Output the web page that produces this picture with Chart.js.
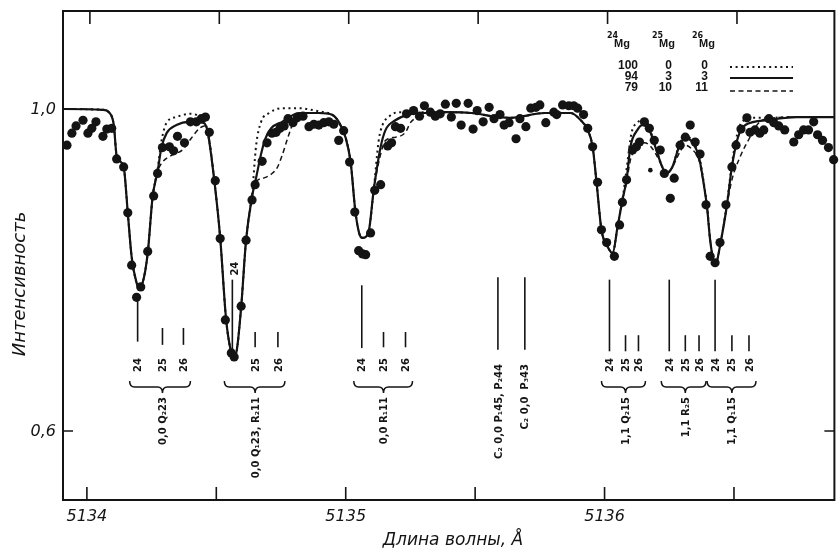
<!DOCTYPE html>
<html lang="ru">
<head>
<meta charset="utf-8">
<title>MgH — профиль линий</title>
<script src="https://cdn.jsdelivr.net/npm/chart.js@4.4.0/dist/chart.umd.min.js"></script>
<style>
  html, body { margin: 0; padding: 0; background: #fff; }
  #wrap { width: 839px; height: 553px; }
</style>
</head>
<body>
<div id="wrap"><canvas id="c" width="839" height="553"></canvas></div>
<script>
// ---- Axis ranges and ticks (wavelength in Å, relative intensity) ----
const xMin = 5133.9077, xMax = 5136.888;
const yMin = 0.5143, yMax = 1.1217;
const xMajorTicks = [5134, 5135, 5136];
const xMajorLabels = ['5134', '5135', '5136'];
const xMinorTicks = [5134.5, 5135.5, 5136.5];
const yTicks = [0.6, 1.0];
const yTickLabels = ['0,6', '1,0'];

// ---- Synthetic spectra: 24Mg:25Mg:26Mg = 100:0:0 (dotted) ----
const dottedWl = [5133.908,5134.062,5134.085,5134.104,5134.115,5134.142,5134.158,5134.173,5134.192,5134.200,5134.215,5134.235,5134.254,5134.273,5134.288,5134.308,5134.346,5134.396,5134.435,5134.465,5134.492,5134.515,5134.538,5134.558,5134.565,5134.577,5134.596,5134.615,5134.638,5134.654,5134.673,5134.704,5134.754,5134.819,5134.896,5134.946,5134.973,5135.000,5135.019,5135.038,5135.058,5135.065,5135.088,5135.108,5135.127,5135.142,5135.165,5135.204,5135.242,5135.308,5135.385,5135.485,5135.588,5135.638,5135.769,5135.869,5135.908,5135.935,5135.954,5135.969,5135.988,5136.012,5136.031,5136.050,5136.069,5136.085,5136.104,5136.127,5136.146,5136.165,5136.192,5136.223,5136.238,5136.262,5136.288,5136.312,5136.338,5136.365,5136.385,5136.396,5136.408,5136.427,5136.450,5136.473,5136.492,5136.512,5136.531,5136.577,5136.627,5136.742,5136.888];
const dottedI  = [1.000,0.999,0.996,0.980,0.942,0.928,0.871,0.816,0.784,0.779,0.784,0.821,0.891,0.925,0.960,0.983,0.990,0.994,0.990,0.974,0.912,0.840,0.738,0.697,0.692,0.697,0.754,0.837,0.893,0.955,0.984,0.995,1.001,1.001,0.997,0.993,0.984,0.964,0.934,0.871,0.841,0.840,0.847,0.899,0.960,0.980,0.990,0.996,0.996,0.996,0.996,0.995,0.990,0.989,0.995,0.995,0.986,0.974,0.953,0.909,0.850,0.829,0.821,0.853,0.887,0.925,0.970,0.983,0.986,0.983,0.958,0.928,0.920,0.928,0.955,0.966,0.961,0.942,0.905,0.880,0.837,0.806,0.837,0.883,0.932,0.968,0.984,0.989,0.989,0.990,0.990];

// ---- 94:3:3 (solid) ----
const solidWl = [5133.908,5134.062,5134.085,5134.104,5134.115,5134.142,5134.158,5134.173,5134.192,5134.200,5134.215,5134.235,5134.254,5134.273,5134.288,5134.308,5134.346,5134.396,5134.446,5134.465,5134.492,5134.515,5134.538,5134.558,5134.565,5134.577,5134.596,5134.615,5134.638,5134.654,5134.673,5134.688,5134.712,5134.754,5134.819,5134.896,5134.946,5134.973,5135.000,5135.019,5135.038,5135.058,5135.065,5135.088,5135.108,5135.135,5135.154,5135.192,5135.242,5135.308,5135.385,5135.485,5135.588,5135.638,5135.769,5135.869,5135.908,5135.935,5135.954,5135.969,5135.988,5136.012,5136.031,5136.050,5136.069,5136.085,5136.100,5136.127,5136.146,5136.173,5136.196,5136.223,5136.238,5136.262,5136.288,5136.312,5136.338,5136.365,5136.385,5136.396,5136.408,5136.427,5136.450,5136.473,5136.492,5136.512,5136.531,5136.577,5136.627,5136.742,5136.888];
const solidI  = [1.000,0.999,0.996,0.980,0.942,0.928,0.871,0.816,0.784,0.779,0.784,0.821,0.891,0.922,0.952,0.970,0.980,0.984,0.983,0.974,0.912,0.840,0.738,0.697,0.692,0.697,0.754,0.837,0.891,0.915,0.944,0.962,0.976,0.984,0.995,0.995,0.993,0.984,0.964,0.934,0.871,0.841,0.840,0.847,0.899,0.953,0.974,0.986,0.993,0.995,0.996,0.995,0.990,0.989,0.995,0.995,0.986,0.974,0.953,0.909,0.850,0.829,0.821,0.853,0.887,0.912,0.953,0.974,0.980,0.974,0.953,0.928,0.920,0.928,0.953,0.964,0.959,0.940,0.903,0.878,0.837,0.806,0.837,0.881,0.928,0.961,0.976,0.984,0.986,0.990,0.990];

// ---- 79:10:11 (dashed) ----
const dashedWl = [5133.908,5134.062,5134.085,5134.104,5134.115,5134.142,5134.158,5134.173,5134.192,5134.200,5134.215,5134.235,5134.254,5134.273,5134.292,5134.331,5134.369,5134.404,5134.435,5134.454,5134.470,5134.492,5134.515,5134.538,5134.558,5134.565,5134.577,5134.596,5134.615,5134.638,5134.650,5134.681,5134.712,5134.735,5134.754,5134.777,5134.800,5134.823,5134.896,5134.946,5134.973,5135.000,5135.019,5135.038,5135.058,5135.065,5135.088,5135.108,5135.125,5135.154,5135.192,5135.231,5135.250,5135.277,5135.308,5135.385,5135.485,5135.588,5135.638,5135.769,5135.869,5135.908,5135.935,5135.954,5135.969,5135.988,5136.012,5136.031,5136.050,5136.069,5136.085,5136.100,5136.127,5136.154,5136.177,5136.200,5136.223,5136.238,5136.262,5136.292,5136.312,5136.338,5136.365,5136.385,5136.396,5136.408,5136.427,5136.450,5136.473,5136.492,5136.523,5136.562,5136.596,5136.627,5136.742,5136.888];
const dashedI  = [1.000,0.999,0.996,0.980,0.942,0.928,0.871,0.816,0.784,0.779,0.784,0.821,0.891,0.922,0.934,0.943,0.949,0.964,0.976,0.979,0.968,0.912,0.840,0.738,0.697,0.692,0.697,0.754,0.837,0.891,0.908,0.914,0.919,0.927,0.942,0.965,0.985,0.993,0.995,0.993,0.984,0.964,0.934,0.871,0.841,0.840,0.847,0.899,0.930,0.961,0.965,0.971,0.983,0.990,0.995,0.996,0.995,0.990,0.989,0.995,0.995,0.986,0.974,0.953,0.909,0.850,0.829,0.821,0.853,0.887,0.909,0.937,0.952,0.958,0.954,0.943,0.928,0.920,0.928,0.947,0.955,0.950,0.936,0.903,0.878,0.837,0.806,0.837,0.881,0.912,0.940,0.965,0.983,0.988,0.990,0.990];

// ---- Observed profile ----
const obsWl = [5133.923,5133.942,5133.958,5133.985,5134.004,5134.019,5134.035,5134.062,5134.077,5134.096,5134.115,5134.142,5134.158,5134.173,5134.192,5134.208,5134.235,5134.258,5134.273,5134.292,5134.319,5134.335,5134.350,5134.377,5134.400,5134.423,5134.442,5134.458,5134.473,5134.496,5134.515,5134.535,5134.558,5134.569,5134.596,5134.615,5134.638,5134.650,5134.677,5134.696,5134.715,5134.731,5134.746,5134.762,5134.777,5134.796,5134.812,5134.835,5134.858,5134.877,5134.896,5134.915,5134.935,5134.954,5134.973,5134.992,5135.015,5135.035,5135.050,5135.065,5135.077,5135.096,5135.112,5135.135,5135.162,5135.177,5135.192,5135.212,5135.235,5135.262,5135.285,5135.304,5135.327,5135.346,5135.365,5135.385,5135.408,5135.427,5135.446,5135.473,5135.492,5135.508,5135.531,5135.554,5135.573,5135.596,5135.612,5135.631,5135.658,5135.673,5135.696,5135.715,5135.735,5135.750,5135.773,5135.804,5135.815,5135.838,5135.862,5135.881,5135.896,5135.919,5135.935,5135.954,5135.973,5135.988,5136.008,5136.038,5136.058,5136.069,5136.085,5136.108,5136.123,5136.135,5136.154,5136.173,5136.192,5136.215,5136.231,5136.254,5136.269,5136.292,5136.312,5136.331,5136.350,5136.369,5136.392,5136.408,5136.427,5136.446,5136.469,5136.492,5136.508,5136.527,5136.550,5136.562,5136.581,5136.600,5136.615,5136.635,5136.654,5136.673,5136.696,5136.731,5136.750,5136.769,5136.788,5136.808,5136.823,5136.842,5136.865,5136.885];
const obsI  = [0.955,0.970,0.979,0.986,0.970,0.976,0.984,0.966,0.975,0.976,0.938,0.928,0.871,0.806,0.766,0.779,0.823,0.892,0.920,0.952,0.953,0.948,0.966,0.958,0.984,0.984,0.988,0.990,0.971,0.911,0.839,0.738,0.697,0.692,0.755,0.837,0.887,0.906,0.935,0.958,0.970,0.971,0.976,0.979,0.988,0.983,0.989,0.991,0.978,0.981,0.980,0.983,0.984,0.981,0.961,0.973,0.934,0.872,0.824,0.820,0.819,0.846,0.899,0.906,0.954,0.958,0.978,0.976,0.994,0.998,0.991,1.004,0.996,0.991,0.994,1.006,0.990,1.007,0.980,1.007,0.975,0.998,0.984,1.002,0.988,0.993,0.980,0.983,0.963,0.988,0.978,1.001,1.002,1.005,0.983,0.996,0.993,1.005,1.004,1.004,1.001,0.993,0.976,0.953,0.909,0.850,0.834,0.817,0.856,0.884,0.912,0.949,0.953,0.959,0.984,0.976,0.961,0.949,0.920,0.889,0.914,0.955,0.965,0.980,0.959,0.944,0.881,0.817,0.809,0.834,0.881,0.928,0.955,0.975,0.989,0.971,0.974,0.970,0.974,0.988,0.983,0.979,0.974,0.959,0.968,0.974,0.974,0.984,0.968,0.961,0.952,0.937];
// a single weaker reading near the 1,1 R2 5 line
const obsFaintWl = [5136.177];
const obsFaintI  = [0.924];

// ---- Line positions of the isotopic components and C2 blends ----
const markerWl     = [5134.196,5134.292,5134.373, 5134.562,5134.650,5134.738, 5135.062,5135.146,5135.231, 5135.588,5135.692, 5136.019,5136.081,5136.131, 5136.250,5136.312,5136.365, 5136.427,5136.492,5136.558];
const markerTop    = [0.765,0.728,0.728, 0.788,0.723,0.723, 0.781,0.723,0.723, 0.791,0.791, 0.788,0.719,0.719, 0.788,0.719,0.719, 0.788,0.719,0.719];
const markerBottom = [0.711,0.707,0.707, 0.697,0.704,0.704, 0.703,0.704,0.704, 0.701,0.701, 0.699,0.699,0.699, 0.699,0.699,0.699, 0.699,0.699,0.699];
const markerIso    = ['24','25','26', '24','25','26', '24','25','26', '','', '24','25','26', '24','25','26', '24','25','26'];

// ---- Transitions (braced triplets) and blends ----
const groupNames = ['0,0 Q\u208223', '0,0 Q\u208123, R\u208211', '0,0 R\u208111', '1,1 Q\u208215', '1,1 R\u20825', '1,1 Q\u208115'];
const groupFirst = [0, 3, 6, 11, 14, 17];
const groupLast  = [2, 5, 8, 13, 16, 19];
const blendNames   = ['C\u2082 0,0 P\u208145, P\u208244', 'C\u2082 0,0  P\u208343'];
const blendMarkers = [9, 10];

// ---- Isotope mixtures table ----
const isoHeads = ['24', '25', '26'];
const mixRows = [['100', '0', '0'], ['94', '3', '3'], ['79', '10', '11']];

const toPts = (xs, ys) => xs.map((x, i) => ({ x: x, y: ys[i] }));
const INK = '#141414';

// Frame, ticks, labels, component markers and the mixture table
const annotations = {
  id: 'annotations',
  afterDatasetsDraw(chart) {
    const ctx = chart.ctx;
    const xs = chart.scales.x, ys = chart.scales.y;
    const a = chart.chartArea;
    ctx.save();
    ctx.strokeStyle = INK;
    ctx.fillStyle = INK;

    // frame
    ctx.lineWidth = 2;
    ctx.strokeRect(a.left, a.top, a.right - a.left, a.bottom - a.top);

    // inward ticks on bottom and top
    ctx.lineWidth = 1.6;
    [...xMajorTicks, ...xMinorTicks].forEach(v => {
      const px = xs.getPixelForValue(v);
      ctx.beginPath();
      ctx.moveTo(px, a.bottom); ctx.lineTo(px, a.bottom - 13);
      ctx.moveTo(px + 3, a.top); ctx.lineTo(px + 3, a.top + 13);
      ctx.stroke();
    });
    yTicks.forEach(v => {
      const py = ys.getPixelForValue(v);
      ctx.beginPath();
      ctx.moveTo(a.left, py); ctx.lineTo(a.left + 10, py);
      if (v < 0.9) { ctx.moveTo(a.right, py); ctx.lineTo(a.right - 10, py); }
      ctx.stroke();
    });

    // tick labels
    ctx.font = 'italic 16px "DejaVu Sans"';
    ctx.textAlign = 'center'; ctx.textBaseline = 'middle';
    xMajorTicks.forEach((v, i) => ctx.fillText(xMajorLabels[i], xs.getPixelForValue(v), a.bottom + 17));
    ctx.textAlign = 'right';
    yTicks.forEach((v, i) => ctx.fillText(yTickLabels[i], a.left - 7, ys.getPixelForValue(v) + 1));

    // axis titles
    ctx.font = 'italic 17px "DejaVu Sans"';
    ctx.textAlign = 'center';
    ctx.fillText('Длина волны, Å', 453, 541);
    ctx.save();
    ctx.translate(20, 284);
    ctx.rotate(-Math.PI / 2);
    ctx.font = 'italic 18px "DejaVu Sans"';
    ctx.fillText('Интенсивность', 0, 0);
    ctx.restore();

    // component markers
    ctx.lineWidth = 1.6;
    markerWl.forEach((w, i) => {
      const px = xs.getPixelForValue(w);
      ctx.beginPath();
      ctx.moveTo(px, ys.getPixelForValue(markerTop[i]));
      ctx.lineTo(px, ys.getPixelForValue(markerBottom[i]));
      ctx.stroke();
    });

    const vText = (txt, x, y, align) => {
      ctx.save();
      ctx.translate(x, y);
      ctx.rotate(-Math.PI / 2);
      ctx.textAlign = align;
      ctx.textBaseline = 'middle';
      ctx.fillText(txt, 0, 0);
      ctx.restore();
    };

    // isotope numbers under (or above, inside the deep Q1 23 core) each marker
    ctx.font = 'bold 10px "DejaVu Sans"';
    markerIso.forEach((t, i) => {
      if (!t) return;
      const px = xs.getPixelForValue(markerWl[i]);
      if (i === 3) {
        vText(t, px + 3, ys.getPixelForValue(markerTop[i]) - 11, 'center');
      } else {
        vText(t, px + 1, 365, 'center');
      }
    });

    // braces and transition names
    ctx.lineWidth = 1.5;
    groupNames.forEach((name, g) => {
      const xl = xs.getPixelForValue(markerWl[groupFirst[g]]) - 8;
      const xr = xs.getPixelForValue(markerWl[groupLast[g]]) + 7;
      const xm = xs.getPixelForValue(markerWl[groupFirst[g] + 1]);
      const y0 = 381, y1 = 387, y2 = 393, r = 5;
      ctx.beginPath();
      ctx.moveTo(xl, y0);
      ctx.quadraticCurveTo(xl, y1, xl + r, y1);
      ctx.lineTo(xm - r, y1);
      ctx.quadraticCurveTo(xm, y1, xm, y2);
      ctx.quadraticCurveTo(xm, y1, xm + r, y1);
      ctx.lineTo(xr - r, y1);
      ctx.quadraticCurveTo(xr, y1, xr, y0);
      ctx.stroke();
      ctx.font = 'bold 10px "DejaVu Sans"';
      vText(name, xm + 1, 397, 'right');
    });
    blendNames.forEach((name, k) => {
      const px = xs.getPixelForValue(markerWl[blendMarkers[k]]);
      vText(name, px + 1, 364, 'right');
    });

    // mixture table
    ctx.textBaseline = 'middle';
    const headX = [607, 652, 692];
    isoHeads.forEach((h, k) => {
      ctx.textAlign = 'left';
      ctx.font = 'bold 8px "DejaVu Sans"';
      ctx.fillText(h, headX[k], 36);
      ctx.font = 'bold 11px "Liberation Sans"';
      ctx.fillText('Mg', headX[k] + 7, 44);
    });
    const colX = [638, 672, 708];
    const rowY = [65.5, 76.5, 87.5];
    ctx.font = 'bold 12px "Liberation Sans Narrow", "Liberation Sans"';
    ctx.textAlign = 'right';
    mixRows.forEach((row, r) => row.forEach((v, c) => ctx.fillText(v, colX[c], rowY[r])));
    const keyY = [67, 78, 91];
    const keyDash = [[2, 3.6], [], [5, 3.5]];
    const keyW = [2, 2.2, 1.5];
    keyY.forEach((y, k) => {
      ctx.beginPath();
      ctx.setLineDash(keyDash[k]);
      ctx.lineWidth = keyW[k];
      ctx.moveTo(730, y); ctx.lineTo(793, y);
      ctx.stroke();
    });
    ctx.setLineDash([]);
    ctx.restore();
  }
};

new Chart(document.getElementById('c'), {
  type: 'scatter',
  data: {
    datasets: [
      { label: '100:0:0', data: toPts(dottedWl, dottedI), showLine: true, borderColor: INK, borderWidth: 2, borderDash: [2, 3.6], pointRadius: 0, cubicInterpolationMode: 'monotone' },
      { label: '79:10:11', data: toPts(dashedWl, dashedI), showLine: true, borderColor: INK, borderWidth: 1.5, borderDash: [5, 3.5], pointRadius: 0, cubicInterpolationMode: 'monotone' },
      { label: '94:3:3', data: toPts(solidWl, solidI), showLine: true, borderColor: INK, borderWidth: 2.2, pointRadius: 0, cubicInterpolationMode: 'monotone' },
      { label: 'obs', data: toPts(obsWl, obsI), showLine: false, pointRadius: 4.6, pointBackgroundColor: INK, pointBorderWidth: 0, clip: 6 },
      { label: 'obs faint', data: toPts(obsFaintWl, obsFaintI), showLine: false, pointRadius: 2.3, pointBackgroundColor: INK, pointBorderWidth: 0 }
    ]
  },
  options: {
    responsive: false,
    animation: false,
    devicePixelRatio: 1,
    layout: { padding: { left: 63, right: 1, top: 11, bottom: 53 } },
    scales: {
      x: { type: 'linear', display: false, min: xMin, max: xMax },
      y: { type: 'linear', display: false, min: yMin, max: yMax }
    },
    plugins: { legend: { display: false }, tooltip: { enabled: false } }
  },
  plugins: [annotations]
});
</script>
</body>
</html>
